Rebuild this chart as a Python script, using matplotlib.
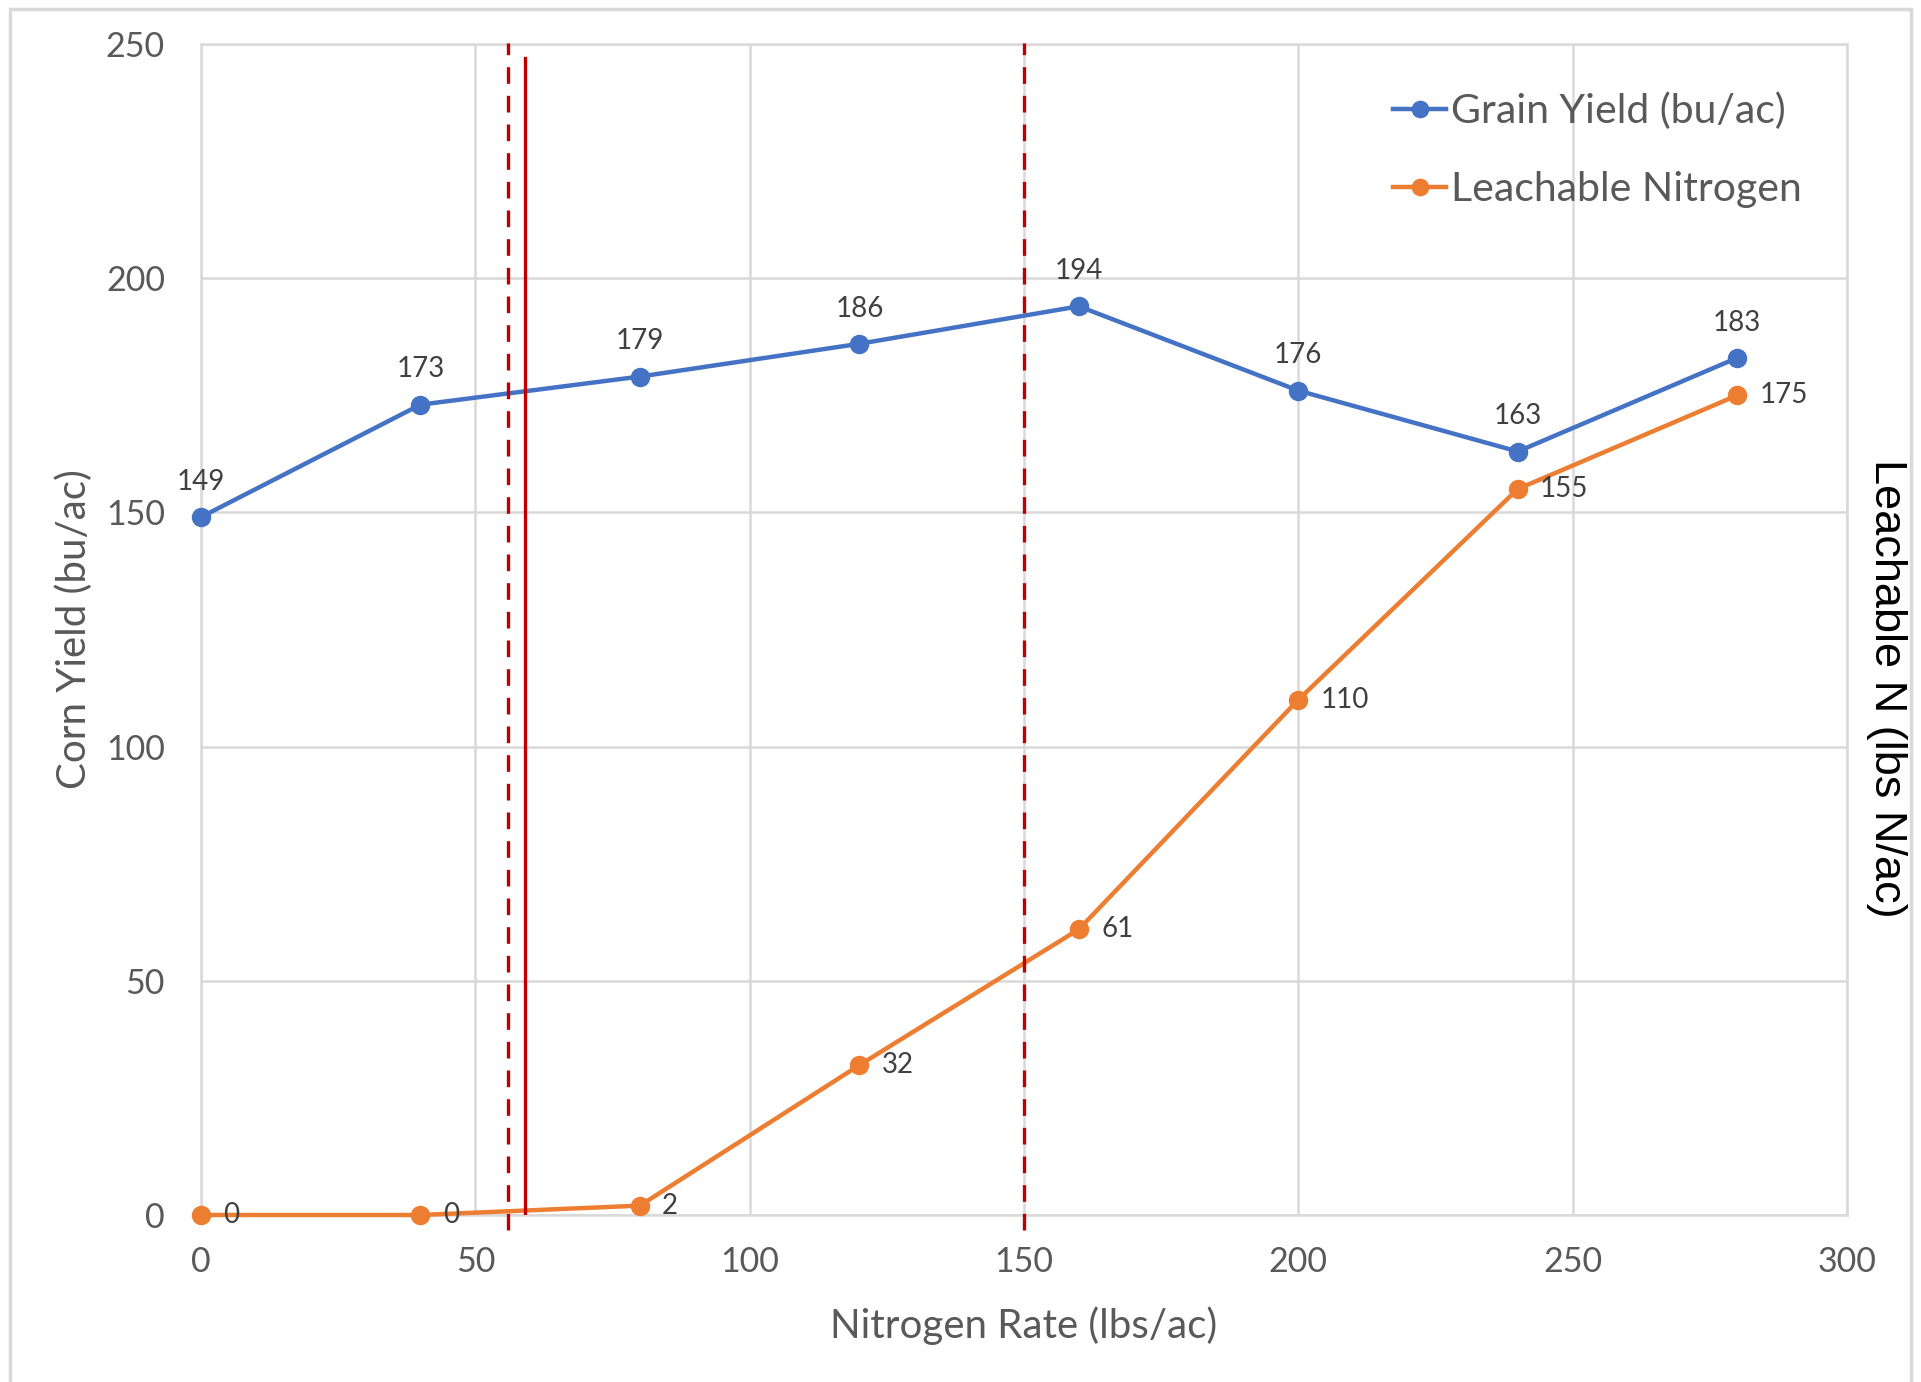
import matplotlib
matplotlib.use("Agg")
import matplotlib.pyplot as plt
from matplotlib.patches import Rectangle

plt.rcParams['font.family'] = ['Lato', 'DejaVu Sans']

# Nitrogen application rates and responses
n_rate = [0, 40, 80, 120, 160, 200, 240, 280]
grain_yield = [149, 173, 179, 186, 194, 176, 163, 183]
leachable_n = [0, 0, 2, 32, 61, 110, 155, 175]

x_ticks = [0, 50, 100, 150, 200, 250, 300]
y_ticks = [0, 50, 100, 150, 200, 250]

# reference rates marked by vertical lines
dashed_rates = [56, 150]
solid_rate = 59

BLUE = '#4472C4'
ORANGE = '#ED7D31'
RED = '#C00000'
GRID = '#D9D9D9'
TEXT = '#595959'

W, H = 1921, 1382
fig = plt.figure(figsize=(W / 100, H / 100), dpi=100)

# chart border
fig.patches.append(Rectangle((10 / W, -0.05), (1911 - 10) / W, 1 - 9 / H + 0.05,
                             transform=fig.transFigure, fill=False,
                             edgecolor='#D9D9D9', linewidth=2.5))

left, right = 201 / W, 1847 / W
top, bottom = 1 - 44 / H, 1 - 1215 / H
ax = fig.add_axes([left, bottom, right - left, top - bottom])
ax2 = ax.twinx()

ax.set_xlim(0, 300)
ax.set_ylim(0, 250)
ax2.set_ylim(0, 250)
ax.set_xticks(x_ticks)
ax.set_yticks(y_ticks)
ax2.set_yticks([])

ax.grid(True, color=GRID, linewidth=1.8)
ax.set_axisbelow(True)
for sp in ax.spines.values():
    sp.set_color(GRID)
    sp.set_linewidth(1.8)
for sp in ax2.spines.values():
    sp.set_visible(False)
ax.tick_params(length=0, labelsize=24.5, labelcolor=TEXT)
ax.tick_params(axis='x', pad=22)
ax.tick_params(axis='y', pad=26)

line_kw = dict(linewidth=3.2, marker='o', markersize=13, clip_on=False)
ax.plot(n_rate, grain_yield, color=BLUE, label='Grain Yield (bu/ac)', zorder=4, **line_kw)
ax.plot(n_rate, leachable_n, color=ORANGE, label='Leachable Nitrogen', zorder=4, **line_kw)

for x, y in zip(n_rate, grain_yield):
    ax.annotate(str(y), (x, y), xytext=(0, 16), textcoords='offset points',
                ha='center', va='bottom', fontsize=20, color='#404040', zorder=5)
for x, y in zip(n_rate, leachable_n):
    ax.annotate(str(y), (x, y), xytext=(16, 0), textcoords='offset points',
                ha='left', va='center', fontsize=20, color='#404040', zorder=5)

# vertical reference lines (dashed lines run slightly past the plot edges)
for r in dashed_rates:
    ax.plot([r, r], [-3.2, 250.3], color=RED, linewidth=2.4, linestyle=(0, (5, 3.6)),
            clip_on=False, zorder=6)
ax.plot([solid_rate, solid_rate], [0, 247], color=RED, linewidth=2.4, zorder=6)

ax.set_xlabel('Nitrogen Rate (lbs/ac)', fontsize=29, color=TEXT, labelpad=21)
ax.set_ylabel('Corn Yield (bu/ac)', fontsize=29, color=TEXT, labelpad=9)

fig.text(1886 / W, 1 - 688 / H, 'Leachable N (lbs N/ac)', rotation=270,
         ha='center', va='center', fontsize=32.5, color='black',
         family=['Liberation Sans', 'DejaVu Sans'])

leg = ax.legend(loc='upper right', bbox_to_anchor=(0.995, 0.99), frameon=False,
                fontsize=29.5, handlelength=1.3, handletextpad=0.12, labelspacing=1.0,
                labelcolor=TEXT, markerscale=0.9)

fig.savefig('out.png', dpi=100, facecolor='white')
